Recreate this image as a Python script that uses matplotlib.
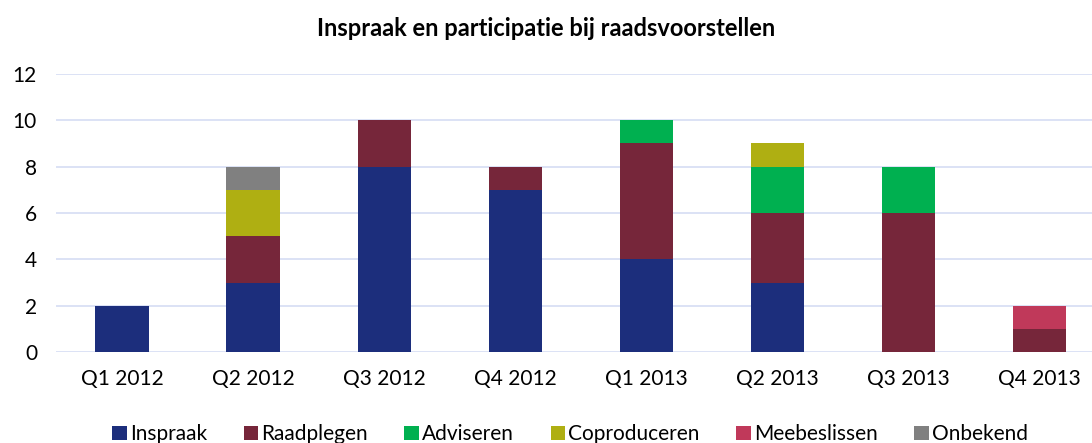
import matplotlib
matplotlib.use('Agg')
import matplotlib.pyplot as plt
import numpy as np

plt.rcParams['font.family'] = ['Lato', 'DejaVu Sans']

quarters = ['Q1 2012', 'Q2 2012', 'Q3 2012', 'Q4 2012',
            'Q1 2013', 'Q2 2013', 'Q3 2013', 'Q4 2013']
inspraak = [2, 3, 8, 7, 4, 3, 0, 0]
raadplegen = [0, 2, 2, 1, 5, 3, 6, 1]
adviseren = [0, 0, 0, 0, 1, 2, 2, 0]
coproduceren = [0, 2, 0, 0, 0, 1, 0, 0]
meebeslissen = [0, 0, 0, 0, 0, 0, 0, 1]
onbekend = [0, 1, 0, 0, 0, 0, 0, 0]

series = [('Inspraak', inspraak, '#1c2e7c'),
          ('Raadplegen', raadplegen, '#76263a'),
          ('Adviseren', adviseren, '#00b050'),
          ('Coproduceren', coproduceren, '#afaf12'),
          ('Meebeslissen', meebeslissen, '#c0395a'),
          ('Onbekend', onbekend, '#808080')]

fig = plt.figure(figsize=(10.92, 4.43), dpi=100)
ax = fig.add_axes([0.0517, 0.2054, 0.96, 0.6276])

x = np.arange(len(quarters))
bottom = np.zeros(len(quarters))
for name, vals, col in series:
    vals = np.array(vals, dtype=float)
    ax.bar(x, vals, 0.405, bottom=bottom, color=col, label=name, zorder=3)
    bottom += vals

ax.set_ylim(0, 12)
ax.set_xlim(-0.5, len(quarters) - 0.5)
ax.set_yticks(range(0, 13, 2))
ax.set_xticks(x)
ax.set_xticklabels(quarters)
ax.tick_params(axis='both', length=0, labelsize=15, colors='black')
ax.tick_params(axis='x', pad=12)
ax.tick_params(axis='y', pad=14)
ax.grid(axis='y', color='#d9dff5', linewidth=1.3, zorder=0)
for s in ax.spines.values():
    s.set_visible(False)

fig.text(0.5, 0.935, 'Inspraak en participatie bij raadsvoorstellen',
         ha='center', va='center', fontsize=17, fontweight='bold')

fig.legend(loc='center', bbox_to_anchor=(0.522, 0.02), ncol=6, frameon=False,
           fontsize=15, handlelength=0.7, handleheight=0.7,
           handletextpad=0.15, columnspacing=1.75)

fig.savefig('out.png', dpi=100)
